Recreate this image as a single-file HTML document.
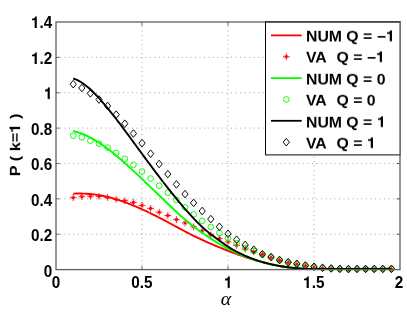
<!DOCTYPE html>
<html><head><meta charset="utf-8"><title>plot</title>
<style>
html,body{margin:0;padding:0;background:#fff;}
#c{position:relative;width:407px;height:327px;overflow:hidden;background:#fff;}
.t{position:absolute;font-family:"Liberation Sans",sans-serif;font-weight:bold;line-height:18px;color:#000;white-space:nowrap;transform-origin:50% 50%;will-change:transform;}
.one{width:0.556em;height:0.8em;vertical-align:baseline;display:inline-block;fill:#000;}
.l{font-size:15.8px;transform:scaleY(0.89);}
.k{font-size:15.3px;transform:scaleY(1.02);}
.y{font-size:16.3px;transform:rotate(-90deg) scaleY(0.863);}
.a{position:absolute;font-family:"Liberation Serif",serif;font-style:italic;font-size:19.8px;line-height:22px;color:#000;will-change:transform;}
</style></head><body><div id="c">
<svg width="407" height="327" viewBox="0 0 407 327" style="position:absolute;left:0;top:0">
<rect width="407" height="327" fill="#fff"/>
<line x1="60.00" y1="234.23" x2="400.00" y2="234.23" stroke="#a4a4a4" stroke-width="1" stroke-dasharray="1 3.5"/>
<line x1="60.00" y1="198.86" x2="400.00" y2="198.86" stroke="#a4a4a4" stroke-width="1" stroke-dasharray="1 3.5"/>
<line x1="60.00" y1="163.49" x2="400.00" y2="163.49" stroke="#a4a4a4" stroke-width="1" stroke-dasharray="1 3.5"/>
<line x1="60.00" y1="128.11" x2="400.00" y2="128.11" stroke="#a4a4a4" stroke-width="1" stroke-dasharray="1 3.5"/>
<line x1="60.00" y1="92.74" x2="400.00" y2="92.74" stroke="#a4a4a4" stroke-width="1" stroke-dasharray="1 3.5"/>
<line x1="60.00" y1="57.37" x2="400.00" y2="57.37" stroke="#a4a4a4" stroke-width="1" stroke-dasharray="1 3.5"/>
<line x1="142.00" y1="265.60" x2="142.00" y2="22.00" stroke="#a4a4a4" stroke-width="1" stroke-dasharray="1 3.5"/>
<line x1="228.00" y1="265.60" x2="228.00" y2="22.00" stroke="#a4a4a4" stroke-width="1" stroke-dasharray="1 3.5"/>
<line x1="314.00" y1="265.60" x2="314.00" y2="22.00" stroke="#a4a4a4" stroke-width="1" stroke-dasharray="1 3.5"/>
<path d="M73.20,193.68 L74.80,193.61 L76.40,193.57 L78.00,193.54 L79.60,193.54 L81.19,193.55 L82.79,193.59 L84.39,193.64 L85.99,193.72 L87.59,193.82 L89.19,193.94 L90.79,194.07 L92.39,194.23 L93.99,194.41 L95.59,194.62 L97.18,194.84 L98.78,195.09 L100.38,195.37 L101.98,195.66 L103.58,195.98 L105.18,196.32 L106.78,196.68 L108.38,197.07 L109.98,197.48 L111.58,197.91 L113.17,198.36 L114.77,198.82 L116.37,199.31 L117.97,199.82 L119.57,200.35 L121.17,200.89 L122.77,201.45 L124.37,202.02 L125.97,202.62 L127.57,203.22 L129.16,203.84 L130.76,204.47 L132.36,205.12 L133.96,205.78 L135.56,206.45 L137.16,207.14 L138.76,207.83 L140.36,208.54 L141.96,209.26 L143.56,209.99 L145.15,210.73 L146.75,211.48 L148.35,212.24 L149.95,213.01 L151.55,213.79 L153.15,214.57 L154.75,215.37 L156.35,216.17 L157.95,216.99 L159.55,217.81 L161.14,218.64 L162.74,219.47 L164.34,220.31 L165.94,221.16 L167.54,222.01 L169.14,222.87 L170.74,223.73 L172.34,224.59 L173.94,225.46 L175.54,226.33 L177.13,227.19 L178.73,228.06 L180.33,228.92 L181.93,229.77 L183.53,230.63 L185.13,231.47 L186.73,232.31 L188.33,233.14 L189.93,233.97 L191.53,234.78 L193.12,235.58 L194.72,236.37 L196.32,237.15 L197.92,237.92 L199.52,238.68 L201.12,239.43 L202.72,240.17 L204.32,240.89 L205.92,241.61 L207.52,242.32 L209.11,243.02 L210.71,243.72 L212.31,244.40 L213.91,245.08 L215.51,245.75 L217.11,246.42 L218.71,247.08 L220.31,247.74 L221.91,248.39 L223.51,249.03 L225.10,249.67 L226.70,250.30 L228.30,250.92 L229.90,251.54 L231.50,252.15 L233.10,252.76 L234.70,253.36 L236.30,253.95 L237.90,254.53 L239.50,255.10 L241.09,255.66 L242.69,256.22 L244.29,256.76 L245.89,257.30 L247.49,257.82 L249.09,258.34 L250.69,258.84 L252.29,259.33 L253.89,259.82 L255.49,260.29 L257.08,260.75 L258.68,261.19 L260.28,261.63 L261.88,262.05 L263.48,262.47 L265.08,262.86 L266.68,263.25 L268.28,263.63 L269.88,263.99 L271.48,264.34 L273.07,264.68 L274.67,265.01 L276.27,265.32 L277.87,265.63 L279.47,265.92 L281.07,266.20 L282.67,266.47 L284.27,266.73 L285.87,266.98 L287.47,267.22 L289.06,267.45 L290.66,267.67 L292.26,267.88 L293.86,268.08 L295.46,268.28 L297.06,268.46 L298.66,268.63 L300.26,268.79 L301.86,268.95 L303.46,269.05 L305.05,269.05 L306.65,269.05 L308.25,269.05 L309.85,269.05 L311.45,269.05 L313.05,269.05 L314.65,269.05 L316.25,269.05 L317.85,269.05 L319.45,269.05 L321.04,269.05 L322.64,269.05 L324.24,269.05 L325.84,269.05 L327.44,269.05 L329.04,269.05 L330.64,269.05 L332.24,269.05 L333.84,269.05 L335.44,269.05 L337.03,269.05 L338.63,269.05 L340.23,269.05 L341.83,269.05 L343.43,269.05 L345.03,269.05 L346.63,269.05 L348.23,269.05 L349.83,269.05 L351.43,269.05 L353.02,269.05 L354.62,269.05 L356.22,269.05 L357.82,269.05 L359.42,269.05 L361.02,269.05 L362.62,269.05 L364.22,269.05 L365.82,269.05 L367.42,269.05 L369.01,269.05 L370.61,269.05 L372.21,269.05 L373.81,269.05 L375.41,269.05 L377.01,269.05 L378.61,269.05 L380.21,269.04 L381.81,268.96 L383.41,268.88 L385.00,268.80 L386.60,268.72 L388.20,268.64 L389.80,268.55 L391.40,268.47" stroke="#f00" stroke-width="1.9" fill="none" stroke-linejoin="round"/>
<path d="M69.80,197.70H76.60M73.20,194.30V201.10M71.65,196.15L74.75,199.25M71.65,199.25L74.75,196.15" stroke="#f00" stroke-width="0.85" fill="none"/><path d="M71.70,197.70L73.20,196.20L74.70,197.70L73.20,199.20Z" fill="#f00"/>
<path d="M78.40,196.70H85.20M81.80,193.30V200.10M80.25,195.15L83.35,198.25M80.25,198.25L83.35,195.15" stroke="#f00" stroke-width="0.85" fill="none"/><path d="M80.30,196.70L81.80,195.20L83.30,196.70L81.80,198.20Z" fill="#f00"/>
<path d="M87.00,196.20H93.80M90.40,192.80V199.60M88.85,194.65L91.95,197.75M88.85,197.75L91.95,194.65" stroke="#f00" stroke-width="0.85" fill="none"/><path d="M88.90,196.20L90.40,194.70L91.90,196.20L90.40,197.70Z" fill="#f00"/>
<path d="M95.60,196.40H102.40M99.00,193.00V199.80M97.45,194.85L100.55,197.95M97.45,197.95L100.55,194.85" stroke="#f00" stroke-width="0.85" fill="none"/><path d="M97.50,196.40L99.00,194.90L100.50,196.40L99.00,197.90Z" fill="#f00"/>
<path d="M104.20,197.40H111.00M107.60,194.00V200.80M106.05,195.85L109.15,198.95M106.05,198.95L109.15,195.85" stroke="#f00" stroke-width="0.85" fill="none"/><path d="M106.10,197.40L107.60,195.90L109.10,197.40L107.60,198.90Z" fill="#f00"/>
<path d="M112.80,199.40H119.60M116.20,196.00V202.80M114.65,197.85L117.75,200.95M114.65,200.95L117.75,197.85" stroke="#f00" stroke-width="0.85" fill="none"/><path d="M114.70,199.40L116.20,197.90L117.70,199.40L116.20,200.90Z" fill="#f00"/>
<path d="M121.40,200.70H128.20M124.80,197.30V204.10M123.25,199.15L126.35,202.25M123.25,202.25L126.35,199.15" stroke="#f00" stroke-width="0.85" fill="none"/><path d="M123.30,200.70L124.80,199.20L126.30,200.70L124.80,202.20Z" fill="#f00"/>
<path d="M130.00,202.40H136.80M133.40,199.00V205.80M131.85,200.85L134.95,203.95M131.85,203.95L134.95,200.85" stroke="#f00" stroke-width="0.85" fill="none"/><path d="M131.90,202.40L133.40,200.90L134.90,202.40L133.40,203.90Z" fill="#f00"/>
<path d="M138.60,205.40H145.40M142.00,202.00V208.80M140.45,203.85L143.55,206.95M140.45,206.95L143.55,203.85" stroke="#f00" stroke-width="0.85" fill="none"/><path d="M140.50,205.40L142.00,203.90L143.50,205.40L142.00,206.90Z" fill="#f00"/>
<path d="M147.20,208.40H154.00M150.60,205.00V211.80M149.05,206.85L152.15,209.95M149.05,209.95L152.15,206.85" stroke="#f00" stroke-width="0.85" fill="none"/><path d="M149.10,208.40L150.60,206.90L152.10,208.40L150.60,209.90Z" fill="#f00"/>
<path d="M155.80,212.20H162.60M159.20,208.80V215.60M157.65,210.65L160.75,213.75M157.65,213.75L160.75,210.65" stroke="#f00" stroke-width="0.85" fill="none"/><path d="M157.70,212.20L159.20,210.70L160.70,212.20L159.20,213.70Z" fill="#f00"/>
<path d="M164.40,215.50H171.20M167.80,212.10V218.90M166.25,213.95L169.35,217.05M166.25,217.05L169.35,213.95" stroke="#f00" stroke-width="0.85" fill="none"/><path d="M166.30,215.50L167.80,214.00L169.30,215.50L167.80,217.00Z" fill="#f00"/>
<path d="M173.00,219.60H179.80M176.40,216.20V223.00M174.85,218.05L177.95,221.15M174.85,221.15L177.95,218.05" stroke="#f00" stroke-width="0.85" fill="none"/><path d="M174.90,219.60L176.40,218.10L177.90,219.60L176.40,221.10Z" fill="#f00"/>
<path d="M181.60,223.00H188.40M185.00,219.60V226.40M183.45,221.45L186.55,224.55M183.45,224.55L186.55,221.45" stroke="#f00" stroke-width="0.85" fill="none"/><path d="M183.50,223.00L185.00,221.50L186.50,223.00L185.00,224.50Z" fill="#f00"/>
<path d="M190.20,226.80H197.00M193.60,223.40V230.20M192.05,225.25L195.15,228.35M192.05,228.35L195.15,225.25" stroke="#f00" stroke-width="0.85" fill="none"/><path d="M192.10,226.80L193.60,225.30L195.10,226.80L193.60,228.30Z" fill="#f00"/>
<path d="M198.80,230.80H205.60M202.20,227.40V234.20M200.65,229.25L203.75,232.35M200.65,232.35L203.75,229.25" stroke="#f00" stroke-width="0.85" fill="none"/><path d="M200.70,230.80L202.20,229.30L203.70,230.80L202.20,232.30Z" fill="#f00"/>
<path d="M207.40,235.00H214.20M210.80,231.60V238.40M209.25,233.45L212.35,236.55M209.25,236.55L212.35,233.45" stroke="#f00" stroke-width="0.85" fill="none"/><path d="M209.30,235.00L210.80,233.50L212.30,235.00L210.80,236.50Z" fill="#f00"/>
<path d="M216.00,238.60H222.80M219.40,235.20V242.00M217.85,237.05L220.95,240.15M217.85,240.15L220.95,237.05" stroke="#f00" stroke-width="0.85" fill="none"/><path d="M217.90,238.60L219.40,237.10L220.90,238.60L219.40,240.10Z" fill="#f00"/>
<path d="M224.60,241.90H231.40M228.00,238.50V245.30M226.45,240.35L229.55,243.45M226.45,243.45L229.55,240.35" stroke="#f00" stroke-width="0.85" fill="none"/><path d="M226.50,241.90L228.00,240.40L229.50,241.90L228.00,243.40Z" fill="#f00"/>
<path d="M233.20,245.40H240.00M236.60,242.00V248.80M235.05,243.85L238.15,246.95M235.05,246.95L238.15,243.85" stroke="#f00" stroke-width="0.85" fill="none"/><path d="M235.10,245.40L236.60,243.90L238.10,245.40L236.60,246.90Z" fill="#f00"/>
<path d="M241.80,249.00H248.60M245.20,245.60V252.40M243.65,247.45L246.75,250.55M243.65,250.55L246.75,247.45" stroke="#f00" stroke-width="0.85" fill="none"/><path d="M243.70,249.00L245.20,247.50L246.70,249.00L245.20,250.50Z" fill="#f00"/>
<path d="M250.40,251.80H257.20M253.80,248.40V255.20M252.25,250.25L255.35,253.35M252.25,253.35L255.35,250.25" stroke="#f00" stroke-width="0.85" fill="none"/><path d="M252.30,251.80L253.80,250.30L255.30,251.80L253.80,253.30Z" fill="#f00"/>
<path d="M259.00,254.60H265.80M262.40,251.20V258.00M260.85,253.05L263.95,256.15M260.85,256.15L263.95,253.05" stroke="#f00" stroke-width="0.85" fill="none"/><path d="M260.90,254.60L262.40,253.10L263.90,254.60L262.40,256.10Z" fill="#f00"/>
<path d="M267.60,257.40H274.40M271.00,254.00V260.80M269.45,255.85L272.55,258.95M269.45,258.95L272.55,255.85" stroke="#f00" stroke-width="0.85" fill="none"/><path d="M269.50,257.40L271.00,255.90L272.50,257.40L271.00,258.90Z" fill="#f00"/>
<path d="M276.20,260.40H283.00M279.60,257.00V263.80M278.05,258.85L281.15,261.95M278.05,261.95L281.15,258.85" stroke="#f00" stroke-width="0.85" fill="none"/><path d="M278.10,260.40L279.60,258.90L281.10,260.40L279.60,261.90Z" fill="#f00"/>
<path d="M284.80,262.60H291.60M288.20,259.20V266.00M286.65,261.05L289.75,264.15M286.65,264.15L289.75,261.05" stroke="#f00" stroke-width="0.85" fill="none"/><path d="M286.70,262.60L288.20,261.10L289.70,262.60L288.20,264.10Z" fill="#f00"/>
<path d="M293.40,264.20H300.20M296.80,260.80V267.60M295.25,262.65L298.35,265.75M295.25,265.75L298.35,262.65" stroke="#f00" stroke-width="0.85" fill="none"/><path d="M295.30,264.20L296.80,262.70L298.30,264.20L296.80,265.70Z" fill="#f00"/>
<path d="M302.00,265.80H308.80M305.40,262.40V269.20M303.85,264.25L306.95,267.35M303.85,267.35L306.95,264.25" stroke="#f00" stroke-width="0.85" fill="none"/><path d="M303.90,265.80L305.40,264.30L306.90,265.80L305.40,267.30Z" fill="#f00"/>
<path d="M310.60,267.10H317.40M314.00,263.70V270.50M312.45,265.55L315.55,268.65M312.45,268.65L315.55,265.55" stroke="#f00" stroke-width="0.85" fill="none"/><path d="M312.50,267.10L314.00,265.60L315.50,267.10L314.00,268.60Z" fill="#f00"/>
<path d="M319.20,268.10H326.00M322.60,264.70V271.50M321.05,266.55L324.15,269.65M321.05,269.65L324.15,266.55" stroke="#f00" stroke-width="0.85" fill="none"/><path d="M321.10,268.10L322.60,266.60L324.10,268.10L322.60,269.60Z" fill="#f00"/>
<path d="M327.80,268.80H334.60M331.20,265.40V272.20M329.65,267.25L332.75,270.35M329.65,270.35L332.75,267.25" stroke="#f00" stroke-width="0.85" fill="none"/><path d="M329.70,268.80L331.20,267.30L332.70,268.80L331.20,270.30Z" fill="#f00"/>
<path d="M336.40,269.20H343.20M339.80,265.80V272.60M338.25,267.65L341.35,270.75M338.25,270.75L341.35,267.65" stroke="#f00" stroke-width="0.85" fill="none"/><path d="M338.30,269.20L339.80,267.70L341.30,269.20L339.80,270.70Z" fill="#f00"/>
<path d="M345.00,269.40H351.80M348.40,266.00V272.80M346.85,267.85L349.95,270.95M346.85,270.95L349.95,267.85" stroke="#f00" stroke-width="0.85" fill="none"/><path d="M346.90,269.40L348.40,267.90L349.90,269.40L348.40,270.90Z" fill="#f00"/>
<path d="M353.60,269.30H360.40M357.00,265.90V272.70M355.45,267.75L358.55,270.85M355.45,270.85L358.55,267.75" stroke="#f00" stroke-width="0.85" fill="none"/><path d="M355.50,269.30L357.00,267.80L358.50,269.30L357.00,270.80Z" fill="#f00"/>
<path d="M362.20,269.30H369.00M365.60,265.90V272.70M364.05,267.75L367.15,270.85M364.05,270.85L367.15,267.75" stroke="#f00" stroke-width="0.85" fill="none"/><path d="M364.10,269.30L365.60,267.80L367.10,269.30L365.60,270.80Z" fill="#f00"/>
<path d="M370.80,269.30H377.60M374.20,265.90V272.70M372.65,267.75L375.75,270.85M372.65,270.85L375.75,267.75" stroke="#f00" stroke-width="0.85" fill="none"/><path d="M372.70,269.30L374.20,267.80L375.70,269.30L374.20,270.80Z" fill="#f00"/>
<path d="M379.40,269.30H386.20M382.80,265.90V272.70M381.25,267.75L384.35,270.85M381.25,270.85L384.35,267.75" stroke="#f00" stroke-width="0.85" fill="none"/><path d="M381.30,269.30L382.80,267.80L384.30,269.30L382.80,270.80Z" fill="#f00"/>
<path d="M388.00,269.20H394.80M391.40,265.80V272.60M389.85,267.65L392.95,270.75M389.85,270.75L392.95,267.65" stroke="#f00" stroke-width="0.85" fill="none"/><path d="M389.90,269.20L391.40,267.70L392.90,269.20L391.40,270.70Z" fill="#f00"/>
<path d="M73.20,130.96 L74.80,131.35 L76.40,131.80 L78.00,132.28 L79.60,132.82 L81.19,133.40 L82.79,134.03 L84.39,134.71 L85.99,135.42 L87.59,136.18 L89.19,136.98 L90.79,137.82 L92.39,138.69 L93.99,139.61 L95.59,140.56 L97.18,141.54 L98.78,142.56 L100.38,143.62 L101.98,144.70 L103.58,145.82 L105.18,146.96 L106.78,148.13 L108.38,149.34 L109.98,150.56 L111.58,151.82 L113.17,153.09 L114.77,154.39 L116.37,155.71 L117.97,157.05 L119.57,158.41 L121.17,159.79 L122.77,161.19 L124.37,162.60 L125.97,164.03 L127.57,165.47 L129.16,166.93 L130.76,168.39 L132.36,169.87 L133.96,171.36 L135.56,172.85 L137.16,174.35 L138.76,175.86 L140.36,177.38 L141.96,178.90 L143.56,180.42 L145.15,181.95 L146.75,183.48 L148.35,185.02 L149.95,186.56 L151.55,188.10 L153.15,189.64 L154.75,191.18 L156.35,192.72 L157.95,194.26 L159.55,195.80 L161.14,197.35 L162.74,198.89 L164.34,200.42 L165.94,201.96 L167.54,203.49 L169.14,205.02 L170.74,206.54 L172.34,208.05 L173.94,209.55 L175.54,211.04 L177.13,212.52 L178.73,213.98 L180.33,215.42 L181.93,216.84 L183.53,218.25 L185.13,219.62 L186.73,220.98 L188.33,222.31 L189.93,223.61 L191.53,224.89 L193.12,226.15 L194.72,227.38 L196.32,228.59 L197.92,229.78 L199.52,230.95 L201.12,232.10 L202.72,233.23 L204.32,234.34 L205.92,235.43 L207.52,236.51 L209.11,237.57 L210.71,238.61 L212.31,239.64 L213.91,240.65 L215.51,241.64 L217.11,242.61 L218.71,243.56 L220.31,244.50 L221.91,245.42 L223.51,246.31 L225.10,247.19 L226.70,248.05 L228.30,248.89 L229.90,249.71 L231.50,250.52 L233.10,251.30 L234.70,252.06 L236.30,252.81 L237.90,253.53 L239.50,254.24 L241.09,254.92 L242.69,255.59 L244.29,256.24 L245.89,256.87 L247.49,257.48 L249.09,258.08 L250.69,258.65 L252.29,259.21 L253.89,259.74 L255.49,260.26 L257.08,260.76 L258.68,261.25 L260.28,261.71 L261.88,262.16 L263.48,262.59 L265.08,263.00 L266.68,263.40 L268.28,263.78 L269.88,264.14 L271.48,264.49 L273.07,264.83 L274.67,265.15 L276.27,265.45 L277.87,265.74 L279.47,266.02 L281.07,266.28 L282.67,266.53 L284.27,266.77 L285.87,266.99 L287.47,267.20 L289.06,267.40 L290.66,267.59 L292.26,267.77 L293.86,267.93 L295.46,268.08 L297.06,268.23 L298.66,268.36 L300.26,268.49 L301.86,268.60 L303.46,268.70 L305.05,268.80 L306.65,268.89 L308.25,268.97 L309.85,269.04 L311.45,269.05 L313.05,269.05 L314.65,269.05 L316.25,269.05 L317.85,269.05 L319.45,269.05 L321.04,269.05 L322.64,269.05 L324.24,269.05 L325.84,269.05 L327.44,269.05 L329.04,269.05 L330.64,269.05 L332.24,269.05 L333.84,269.05 L335.44,269.05 L337.03,269.05 L338.63,269.05 L340.23,269.05 L341.83,269.05 L343.43,269.05 L345.03,269.05 L346.63,269.05 L348.23,269.05 L349.83,269.05 L351.43,269.05 L353.02,269.05 L354.62,269.05 L356.22,269.05 L357.82,269.04 L359.42,269.02 L361.02,269.00 L362.62,268.99 L364.22,268.98 L365.82,268.97 L367.42,268.96 L369.01,268.96 L370.61,268.97 L372.21,268.97 L373.81,268.98 L375.41,269.00 L377.01,269.02 L378.61,269.05 L380.21,269.05 L381.81,269.05 L383.41,269.05 L385.00,269.05 L386.60,269.05 L388.20,269.05 L389.80,269.05 L391.40,269.05" stroke="#0f0" stroke-width="1.9" fill="none" stroke-linejoin="round"/>
<circle cx="73.20" cy="135.70" r="2.85" stroke="#0f0" stroke-width="0.95" fill="none"/>
<circle cx="81.80" cy="137.30" r="2.85" stroke="#0f0" stroke-width="0.95" fill="none"/>
<circle cx="90.40" cy="140.70" r="2.85" stroke="#0f0" stroke-width="0.95" fill="none"/>
<circle cx="99.00" cy="143.70" r="2.85" stroke="#0f0" stroke-width="0.95" fill="none"/>
<circle cx="107.60" cy="147.60" r="2.85" stroke="#0f0" stroke-width="0.95" fill="none"/>
<circle cx="116.20" cy="152.90" r="2.85" stroke="#0f0" stroke-width="0.95" fill="none"/>
<circle cx="124.80" cy="158.80" r="2.85" stroke="#0f0" stroke-width="0.95" fill="none"/>
<circle cx="133.40" cy="164.80" r="2.85" stroke="#0f0" stroke-width="0.95" fill="none"/>
<circle cx="142.00" cy="171.50" r="2.85" stroke="#0f0" stroke-width="0.95" fill="none"/>
<circle cx="150.60" cy="178.50" r="2.85" stroke="#0f0" stroke-width="0.95" fill="none"/>
<circle cx="159.20" cy="185.70" r="2.85" stroke="#0f0" stroke-width="0.95" fill="none"/>
<circle cx="167.80" cy="192.80" r="2.85" stroke="#0f0" stroke-width="0.95" fill="none"/>
<circle cx="176.40" cy="199.90" r="2.85" stroke="#0f0" stroke-width="0.95" fill="none"/>
<circle cx="185.00" cy="207.40" r="2.85" stroke="#0f0" stroke-width="0.95" fill="none"/>
<circle cx="193.60" cy="214.30" r="2.85" stroke="#0f0" stroke-width="0.95" fill="none"/>
<circle cx="202.20" cy="220.90" r="2.85" stroke="#0f0" stroke-width="0.95" fill="none"/>
<circle cx="210.80" cy="226.90" r="2.85" stroke="#0f0" stroke-width="0.95" fill="none"/>
<circle cx="219.40" cy="233.10" r="2.85" stroke="#0f0" stroke-width="0.95" fill="none"/>
<circle cx="228.00" cy="238.20" r="2.85" stroke="#0f0" stroke-width="0.95" fill="none"/>
<circle cx="236.60" cy="243.20" r="2.85" stroke="#0f0" stroke-width="0.95" fill="none"/>
<circle cx="245.20" cy="247.90" r="2.85" stroke="#0f0" stroke-width="0.95" fill="none"/>
<circle cx="253.80" cy="250.90" r="2.85" stroke="#0f0" stroke-width="0.95" fill="none"/>
<circle cx="262.40" cy="254.40" r="2.85" stroke="#0f0" stroke-width="0.95" fill="none"/>
<circle cx="271.00" cy="257.20" r="2.85" stroke="#0f0" stroke-width="0.95" fill="none"/>
<circle cx="279.60" cy="260.20" r="2.85" stroke="#0f0" stroke-width="0.95" fill="none"/>
<circle cx="288.20" cy="262.40" r="2.85" stroke="#0f0" stroke-width="0.95" fill="none"/>
<circle cx="296.80" cy="264.00" r="2.85" stroke="#0f0" stroke-width="0.95" fill="none"/>
<circle cx="305.40" cy="265.60" r="2.85" stroke="#0f0" stroke-width="0.95" fill="none"/>
<circle cx="314.00" cy="266.90" r="2.85" stroke="#0f0" stroke-width="0.95" fill="none"/>
<circle cx="322.60" cy="267.90" r="2.85" stroke="#0f0" stroke-width="0.95" fill="none"/>
<circle cx="331.20" cy="268.60" r="2.85" stroke="#0f0" stroke-width="0.95" fill="none"/>
<circle cx="339.80" cy="269.00" r="2.85" stroke="#0f0" stroke-width="0.95" fill="none"/>
<circle cx="348.40" cy="269.20" r="2.85" stroke="#0f0" stroke-width="0.95" fill="none"/>
<circle cx="357.00" cy="269.10" r="2.85" stroke="#0f0" stroke-width="0.95" fill="none"/>
<circle cx="365.60" cy="269.10" r="2.85" stroke="#0f0" stroke-width="0.95" fill="none"/>
<circle cx="374.20" cy="269.10" r="2.85" stroke="#0f0" stroke-width="0.95" fill="none"/>
<circle cx="382.80" cy="269.10" r="2.85" stroke="#0f0" stroke-width="0.95" fill="none"/>
<circle cx="391.40" cy="269.00" r="2.85" stroke="#0f0" stroke-width="0.95" fill="none"/>
<path d="M73.20,78.52 L74.80,79.05 L76.40,79.69 L78.00,80.44 L79.60,81.29 L81.19,82.24 L82.79,83.29 L84.39,84.42 L85.99,85.64 L87.59,86.95 L89.19,88.32 L90.79,89.77 L92.39,91.29 L93.99,92.87 L95.59,94.51 L97.18,96.20 L98.78,97.94 L100.38,99.72 L101.98,101.55 L103.58,103.41 L105.18,105.30 L106.78,107.22 L108.38,109.16 L109.98,111.13 L111.58,113.13 L113.17,115.15 L114.77,117.19 L116.37,119.26 L117.97,121.34 L119.57,123.44 L121.17,125.55 L122.77,127.68 L124.37,129.82 L125.97,131.97 L127.57,134.13 L129.16,136.30 L130.76,138.47 L132.36,140.65 L133.96,142.83 L135.56,145.01 L137.16,147.20 L138.76,149.38 L140.36,151.56 L141.96,153.73 L143.56,155.90 L145.15,158.07 L146.75,160.23 L148.35,162.39 L149.95,164.54 L151.55,166.68 L153.15,168.82 L154.75,170.95 L156.35,173.07 L157.95,175.18 L159.55,177.28 L161.14,179.38 L162.74,181.46 L164.34,183.53 L165.94,185.59 L167.54,187.64 L169.14,189.68 L170.74,191.70 L172.34,193.71 L173.94,195.70 L175.54,197.67 L177.13,199.63 L178.73,201.57 L180.33,203.48 L181.93,205.38 L183.53,207.25 L185.13,209.10 L186.73,210.92 L188.33,212.72 L189.93,214.48 L191.53,216.22 L193.12,217.93 L194.72,219.60 L196.32,221.25 L197.92,222.85 L199.52,224.42 L201.12,225.95 L202.72,227.44 L204.32,228.88 L205.92,230.28 L207.52,231.62 L209.11,232.91 L210.71,234.16 L212.31,235.36 L213.91,236.54 L215.51,237.70 L217.11,238.86 L218.71,240.03 L220.31,241.20 L221.91,242.37 L223.51,243.53 L225.10,244.67 L226.70,245.77 L228.30,246.83 L229.90,247.85 L231.50,248.82 L233.10,249.75 L234.70,250.64 L236.30,251.50 L237.90,252.33 L239.50,253.13 L241.09,253.90 L242.69,254.65 L244.29,255.38 L245.89,256.08 L247.49,256.75 L249.09,257.40 L250.69,258.03 L252.29,258.64 L253.89,259.23 L255.49,259.79 L257.08,260.34 L258.68,260.86 L260.28,261.37 L261.88,261.85 L263.48,262.31 L265.08,262.76 L266.68,263.19 L268.28,263.60 L269.88,263.99 L271.48,264.36 L273.07,264.72 L274.67,265.06 L276.27,265.38 L277.87,265.69 L279.47,265.98 L281.07,266.26 L282.67,266.52 L284.27,266.77 L285.87,267.00 L287.47,267.22 L289.06,267.43 L290.66,267.62 L292.26,267.80 L293.86,267.97 L295.46,268.13 L297.06,268.27 L298.66,268.41 L300.26,268.53 L301.86,268.64 L303.46,268.75 L305.05,268.84 L306.65,268.92 L308.25,269.00 L309.85,269.05 L311.45,269.05 L313.05,269.05 L314.65,269.05 L316.25,269.05 L317.85,269.05 L319.45,269.05 L321.04,269.05 L322.64,269.05 L324.24,269.05 L325.84,269.05 L327.44,269.05 L329.04,269.05 L330.64,269.05 L332.24,269.05 L333.84,269.05 L335.44,269.05 L337.03,269.05 L338.63,269.05 L340.23,269.05 L341.83,269.05 L343.43,269.05 L345.03,269.05 L346.63,269.05 L348.23,269.02 L349.83,268.99 L351.43,268.96 L353.02,268.93 L354.62,268.91 L356.22,268.88 L357.82,268.86 L359.42,268.84 L361.02,268.83 L362.62,268.82 L364.22,268.81 L365.82,268.81 L367.42,268.81 L369.01,268.81 L370.61,268.83 L372.21,268.84 L373.81,268.87 L375.41,268.90 L377.01,268.93 L378.61,268.98 L380.21,269.03 L381.81,269.05 L383.41,269.05 L385.00,269.05 L386.60,269.05 L388.20,269.05 L389.80,269.05 L391.40,269.05" stroke="#000" stroke-width="1.9" fill="none" stroke-linejoin="round"/>
<path d="M70.10,84.20L73.20,80.40L76.30,84.20L73.20,88.00Z" stroke="#000" stroke-width="0.95" fill="none"/>
<path d="M78.70,88.00L81.80,84.20L84.90,88.00L81.80,91.80Z" stroke="#000" stroke-width="0.95" fill="none"/>
<path d="M87.30,93.40L90.40,89.60L93.50,93.40L90.40,97.20Z" stroke="#000" stroke-width="0.95" fill="none"/>
<path d="M95.90,99.50L99.00,95.70L102.10,99.50L99.00,103.30Z" stroke="#000" stroke-width="0.95" fill="none"/>
<path d="M104.50,106.00L107.60,102.20L110.70,106.00L107.60,109.80Z" stroke="#000" stroke-width="0.95" fill="none"/>
<path d="M113.10,114.60L116.20,110.80L119.30,114.60L116.20,118.40Z" stroke="#000" stroke-width="0.95" fill="none"/>
<path d="M121.70,123.70L124.80,119.90L127.90,123.70L124.80,127.50Z" stroke="#000" stroke-width="0.95" fill="none"/>
<path d="M130.30,133.50L133.40,129.70L136.50,133.50L133.40,137.30Z" stroke="#000" stroke-width="0.95" fill="none"/>
<path d="M138.90,143.20L142.00,139.40L145.10,143.20L142.00,147.00Z" stroke="#000" stroke-width="0.95" fill="none"/>
<path d="M147.50,153.70L150.60,149.90L153.70,153.70L150.60,157.50Z" stroke="#000" stroke-width="0.95" fill="none"/>
<path d="M156.10,164.00L159.20,160.20L162.30,164.00L159.20,167.80Z" stroke="#000" stroke-width="0.95" fill="none"/>
<path d="M164.70,174.10L167.80,170.30L170.90,174.10L167.80,177.90Z" stroke="#000" stroke-width="0.95" fill="none"/>
<path d="M173.30,184.40L176.40,180.60L179.50,184.40L176.40,188.20Z" stroke="#000" stroke-width="0.95" fill="none"/>
<path d="M181.90,194.10L185.00,190.30L188.10,194.10L185.00,197.90Z" stroke="#000" stroke-width="0.95" fill="none"/>
<path d="M190.50,202.90L193.60,199.10L196.70,202.90L193.60,206.70Z" stroke="#000" stroke-width="0.95" fill="none"/>
<path d="M199.10,211.00L202.20,207.20L205.30,211.00L202.20,214.80Z" stroke="#000" stroke-width="0.95" fill="none"/>
<path d="M207.70,219.10L210.80,215.30L213.90,219.10L210.80,222.90Z" stroke="#000" stroke-width="0.95" fill="none"/>
<path d="M216.30,226.80L219.40,223.00L222.50,226.80L219.40,230.60Z" stroke="#000" stroke-width="0.95" fill="none"/>
<path d="M224.90,233.80L228.00,230.00L231.10,233.80L228.00,237.60Z" stroke="#000" stroke-width="0.95" fill="none"/>
<path d="M233.50,239.70L236.60,235.90L239.70,239.70L236.60,243.50Z" stroke="#000" stroke-width="0.95" fill="none"/>
<path d="M242.10,244.90L245.20,241.10L248.30,244.90L245.20,248.70Z" stroke="#000" stroke-width="0.95" fill="none"/>
<path d="M250.70,249.70L253.80,245.90L256.90,249.70L253.80,253.50Z" stroke="#000" stroke-width="0.95" fill="none"/>
<path d="M259.30,254.20L262.40,250.40L265.50,254.20L262.40,258.00Z" stroke="#000" stroke-width="0.95" fill="none"/>
<path d="M267.90,257.00L271.00,253.20L274.10,257.00L271.00,260.80Z" stroke="#000" stroke-width="0.95" fill="none"/>
<path d="M276.50,260.00L279.60,256.20L282.70,260.00L279.60,263.80Z" stroke="#000" stroke-width="0.95" fill="none"/>
<path d="M285.10,262.20L288.20,258.40L291.30,262.20L288.20,266.00Z" stroke="#000" stroke-width="0.95" fill="none"/>
<path d="M293.70,263.80L296.80,260.00L299.90,263.80L296.80,267.60Z" stroke="#000" stroke-width="0.95" fill="none"/>
<path d="M302.30,265.40L305.40,261.60L308.50,265.40L305.40,269.20Z" stroke="#000" stroke-width="0.95" fill="none"/>
<path d="M310.90,266.70L314.00,262.90L317.10,266.70L314.00,270.50Z" stroke="#000" stroke-width="0.95" fill="none"/>
<path d="M319.50,267.70L322.60,263.90L325.70,267.70L322.60,271.50Z" stroke="#000" stroke-width="0.95" fill="none"/>
<path d="M328.10,268.40L331.20,264.60L334.30,268.40L331.20,272.20Z" stroke="#000" stroke-width="0.95" fill="none"/>
<path d="M336.70,268.80L339.80,265.00L342.90,268.80L339.80,272.60Z" stroke="#000" stroke-width="0.95" fill="none"/>
<path d="M345.30,269.00L348.40,265.20L351.50,269.00L348.40,272.80Z" stroke="#000" stroke-width="0.95" fill="none"/>
<path d="M353.90,268.90L357.00,265.10L360.10,268.90L357.00,272.70Z" stroke="#000" stroke-width="0.95" fill="none"/>
<path d="M362.50,268.90L365.60,265.10L368.70,268.90L365.60,272.70Z" stroke="#000" stroke-width="0.95" fill="none"/>
<path d="M371.10,268.90L374.20,265.10L377.30,268.90L374.20,272.70Z" stroke="#000" stroke-width="0.95" fill="none"/>
<path d="M379.70,268.90L382.80,265.10L385.90,268.90L382.80,272.70Z" stroke="#000" stroke-width="0.95" fill="none"/>
<path d="M388.30,268.80L391.40,265.00L394.50,268.80L391.40,272.60Z" stroke="#000" stroke-width="0.95" fill="none"/>
<rect x="56.00" y="22.00" width="344.00" height="247.60" fill="none" stroke="#606060" stroke-width="1.3"/>
<line x1="56.00" y1="234.23" x2="59.50" y2="234.23" stroke="#606060" stroke-width="1"/>
<line x1="400.00" y1="234.23" x2="396.50" y2="234.23" stroke="#606060" stroke-width="1"/>
<line x1="56.00" y1="198.86" x2="59.50" y2="198.86" stroke="#606060" stroke-width="1"/>
<line x1="400.00" y1="198.86" x2="396.50" y2="198.86" stroke="#606060" stroke-width="1"/>
<line x1="56.00" y1="163.49" x2="59.50" y2="163.49" stroke="#606060" stroke-width="1"/>
<line x1="400.00" y1="163.49" x2="396.50" y2="163.49" stroke="#606060" stroke-width="1"/>
<line x1="56.00" y1="128.11" x2="59.50" y2="128.11" stroke="#606060" stroke-width="1"/>
<line x1="400.00" y1="128.11" x2="396.50" y2="128.11" stroke="#606060" stroke-width="1"/>
<line x1="56.00" y1="92.74" x2="59.50" y2="92.74" stroke="#606060" stroke-width="1"/>
<line x1="400.00" y1="92.74" x2="396.50" y2="92.74" stroke="#606060" stroke-width="1"/>
<line x1="56.00" y1="57.37" x2="59.50" y2="57.37" stroke="#606060" stroke-width="1"/>
<line x1="400.00" y1="57.37" x2="396.50" y2="57.37" stroke="#606060" stroke-width="1"/>
<line x1="142.00" y1="269.60" x2="142.00" y2="266.10" stroke="#606060" stroke-width="1"/>
<line x1="142.00" y1="22.00" x2="142.00" y2="25.50" stroke="#606060" stroke-width="1"/>
<line x1="228.00" y1="269.60" x2="228.00" y2="266.10" stroke="#606060" stroke-width="1"/>
<line x1="228.00" y1="22.00" x2="228.00" y2="25.50" stroke="#606060" stroke-width="1"/>
<line x1="314.00" y1="269.60" x2="314.00" y2="266.10" stroke="#606060" stroke-width="1"/>
<line x1="314.00" y1="22.00" x2="314.00" y2="25.50" stroke="#606060" stroke-width="1"/>
<rect x="265.5" y="22.0" width="134.50" height="132.80" fill="#fff" stroke="none"/>
<line x1="265.5" y1="21.4" x2="265.5" y2="155.4" stroke="#000" stroke-width="1"/>
<line x1="265.0" y1="154.8" x2="400.6" y2="154.8" stroke="#3c3c3c" stroke-width="1.3"/>
<line x1="265.0" y1="22.0" x2="400.6" y2="22.0" stroke="#2a2a2a" stroke-width="1.3"/>
<line x1="400.0" y1="22.0" x2="400.0" y2="154.8" stroke="#606060" stroke-width="1.3"/>
<line x1="271" y1="35.4" x2="301.7" y2="35.4" stroke="#f00" stroke-width="1.8"/>
<path d="M282.90,56.75H289.70M286.30,53.35V60.15M284.75,55.20L287.85,58.30M284.75,58.30L287.85,55.20" stroke="#f00" stroke-width="0.85" fill="none"/><path d="M284.80,56.75L286.30,55.25L287.80,56.75L286.30,58.25Z" fill="#f00"/>
<line x1="271" y1="78.1" x2="301.7" y2="78.1" stroke="#0f0" stroke-width="1.8"/>
<circle cx="286.30" cy="99.45" r="2.85" stroke="#0f0" stroke-width="0.95" fill="none"/>
<line x1="271" y1="120.80000000000001" x2="301.7" y2="120.80000000000001" stroke="#000" stroke-width="1.8"/>
<path d="M283.20,142.15L286.30,138.35L289.40,142.15L286.30,145.95Z" stroke="#000" stroke-width="0.95" fill="none"/>
</svg>
<div class="t l" style="left:305.8px;top:27.7px;">NUM Q = &#8722;<svg class="one" viewBox="0 -50 556 800"><path d="M378 750V-15H275C260 85 190 122 64 128V232H238V750Z"/></svg></div><div class="t l" style="left:305.8px;top:49.2px;">VA<span style="margin-left:1px">&nbsp;</span> Q = &#8722;<svg class="one" viewBox="0 -50 556 800"><path d="M378 750V-15H275C260 85 190 122 64 128V232H238V750Z"/></svg></div><div class="t l" style="left:305.8px;top:70.8px;">NUM Q = 0</div><div class="t l" style="left:305.8px;top:92.3px;">VA<span style="margin-left:1px">&nbsp;</span> Q = 0</div><div class="t l" style="left:305.8px;top:113.8px;">NUM Q = <svg class="one" viewBox="0 -50 556 800"><path d="M378 750V-15H275C260 85 190 122 64 128V232H238V750Z"/></svg></div><div class="t l" style="left:305.8px;top:135.3px;">VA<span style="margin-left:1px">&nbsp;</span> Q = <svg class="one" viewBox="0 -50 556 800"><path d="M378 750V-15H275C260 85 190 122 64 128V232H238V750Z"/></svg></div><div class="t k" style="left:0px;width:52.3px;text-align:right;top:262.6px;">0</div><div class="t k" style="left:0px;width:52.3px;text-align:right;top:227.1px;">0.2</div><div class="t k" style="left:0px;width:52.3px;text-align:right;top:191.6px;">0.4</div><div class="t k" style="left:0px;width:52.3px;text-align:right;top:156.1px;">0.6</div><div class="t k" style="left:0px;width:52.3px;text-align:right;top:120.5px;">0.8</div><div class="t k" style="left:0px;width:52.3px;text-align:right;top:85.0px;"><svg class="one" viewBox="0 -50 556 800"><path d="M378 750V-15H275C260 85 190 122 64 128V232H238V750Z"/></svg></div><div class="t k" style="left:0px;width:52.3px;text-align:right;top:49.5px;"><svg class="one" viewBox="0 -50 556 800"><path d="M378 750V-15H275C260 85 190 122 64 128V232H238V750Z"/></svg>.2</div><div class="t k" style="left:0px;width:52.3px;text-align:right;top:14.0px;"><svg class="one" viewBox="0 -50 556 800"><path d="M378 750V-15H275C260 85 190 122 64 128V232H238V750Z"/></svg>.4</div><div class="t k" style="left:26.0px;width:60px;text-align:center;top:274.0px;">0</div><div class="t k" style="left:112.0px;width:60px;text-align:center;top:274.0px;">0.5</div><div class="t k" style="left:198.0px;width:60px;text-align:center;top:274.0px;"><svg class="one" viewBox="0 -50 556 800"><path d="M378 750V-15H275C260 85 190 122 64 128V232H238V750Z"/></svg></div><div class="t k" style="left:284.0px;width:60px;text-align:center;top:274.0px;"><svg class="one" viewBox="0 -50 556 800"><path d="M378 750V-15H275C260 85 190 122 64 128V232H238V750Z"/></svg>.5</div><div class="t k" style="left:369.4px;width:60px;text-align:center;top:274.0px;">2</div><div class="t y" style="left:-85.2px;top:135.6px;width:200px;text-align:center;">P ( k=<svg class="one" viewBox="0 -50 556 800"><path d="M378 750V-15H275C260 85 190 122 64 128V232H238V750Z"/></svg> )</div><div class="a" style="left:195.7px;width:60px;text-align:center;top:287.3px;">&#945;</div>
</div></body></html>
